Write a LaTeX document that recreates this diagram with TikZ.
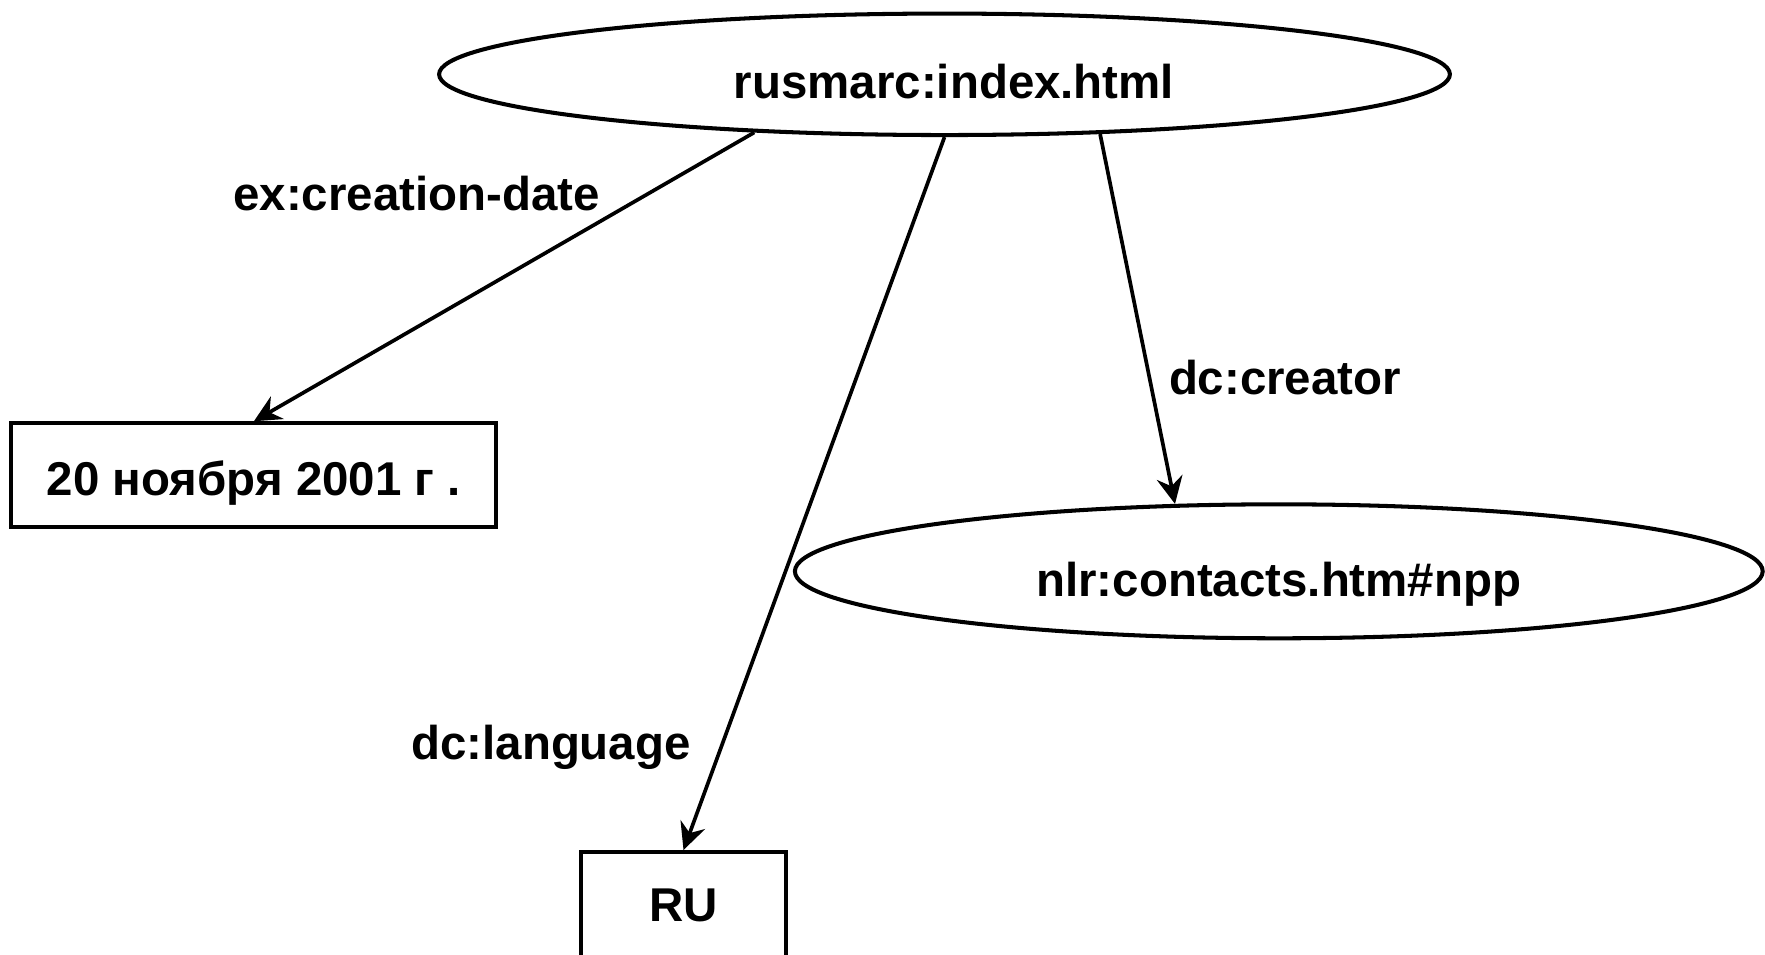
\documentclass[tikz,border=0pt]{standalone}
\usepackage{fontspec}
\setmainfont{Liberation Sans}
\usepackage{tikz}
\usetikzlibrary{shapes.geometric, arrows.meta}

\begin{document}
\begin{tikzpicture}[
    x=0.02cm, y=-0.02cm,
    font=\fontsize{27}{32}\selectfont\bfseries,
    res/.style={draw, ellipse, line width=2.3pt, inner sep=0pt},
    lit/.style={draw, rectangle, line width=2.3pt, inner sep=0pt},
    arr/.style={-{Stealth[length=0.54cm, width=0.52cm, inset=0.18cm]}, line width=2.1pt},
    prop/.style={inner sep=0pt},
  ]

  \useasboundingbox (0,0) rectangle (1765,954);

  % -- Resources
  \node[res, minimum width=20.22cm, minimum height=2.43cm,
        text height=27pt, text depth=0pt] (idx) at (944.5, 74.3)
    {\hspace*{0.38cm}rusmarc:index.html};
  \node[res, minimum width=19.36cm, minimum height=2.68cm,
        text height=34pt, text depth=5.7pt] (npp) at (1278.8, 571.3)
    {nlr:contacts.htm\#npp};

  % -- Literals
  \node[lit, minimum width=9.7cm, minimum height=2.07cm,
        text height=28.5pt, text depth=5.7pt] (date) at (253.9, 475)
    {20 ноября 2001 г .};
  \node[lit, minimum width=4.1cm, minimum height=2.12cm] (lang) at (683.5, 905)
    {RU};

  % -- Property labels
  \node[prop] (lcd) at (416.5, 193.6) {ex:creation-date};
  \node[prop] (lcr) at (1285, 378) {dc:creator};
  \node[prop] (llg) at (551, 747) {dc:language};

  % -- Arrows
  \draw[arr] (idx.197) -- (date.north);
  \draw[arr] (idx.south) -- (lang.north);
  \draw[arr] (idx.339) -- (npp.147);

\end{tikzpicture}
\end{document}
